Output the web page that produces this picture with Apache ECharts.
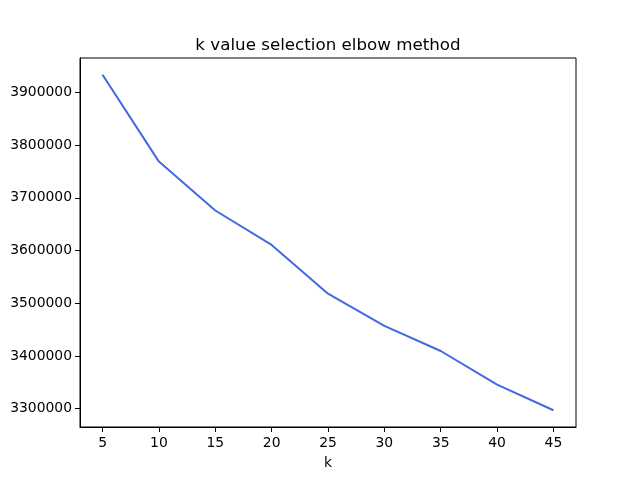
<!DOCTYPE html>
<html>
<head>
<meta charset="utf-8">
<script src="https://cdn.jsdelivr.net/npm/echarts@6/dist/echarts.min.js"></script>
<style>html,body{margin:0;padding:0;background:#fff;}#c{width:640px;height:480px;}</style>
</head>
<body>
<div id="c"></div>
<script>
var kValues = [5, 10, 15, 20, 25, 30, 35, 40, 45];
var sseValues = [3933500, 3768700, 3675900, 3610500, 3518000, 3457000, 3409300, 3345600, 3296900];
var xTicks = [5, 10, 15, 20, 25, 30, 35, 40, 45];
var yTicks = [3300000, 3400000, 3500000, 3600000, 3700000, 3800000, 3900000];

var xMin = 3, xMax = 47;
var yRange = Math.max.apply(null, sseValues) - Math.min.apply(null, sseValues);
var yMin = Math.min.apply(null, sseValues) - 0.05 * yRange;
var yMax = Math.max.apply(null, sseValues) + 0.05 * yRange;

var font = 'DejaVu Sans';
var chart = echarts.init(document.getElementById('c'), null, {renderer: 'canvas'});
chart.setOption({
  animation: false,
  backgroundColor: '#fff',
  title: {
    text: 'k value selection elbow method',
    left: 323, top: 32, textAlign: 'center',
    textStyle: {fontFamily: font, fontSize: 16.7, fontWeight: 'normal', color: '#000'}
  },
  grid: {left: 80, right: 64, top: 58, bottom: 53, show: true, borderColor: '#000', borderWidth: 1, backgroundColor: 'transparent'},
  xAxis: {
    type: 'value', min: xMin, max: xMax,
    name: 'k', nameLocation: 'middle', nameGap: 29,
    nameTextStyle: {fontFamily: font, fontSize: 13.9, color: '#000'},
    axisLine: {show: true, onZero: false, lineStyle: {color: '#000', width: 1}},
    axisTick: {show: true, inside: false, length: 5, lineStyle: {color: '#000'}, customValues: xTicks},
    axisLabel: {show: true, margin: 9, fontFamily: font, fontSize: 13.9, color: '#000', customValues: xTicks},
    splitLine: {show: false}
  },
  yAxis: {
    type: 'value', min: yMin, max: yMax,
    axisLine: {show: true, onZero: false, lineStyle: {color: '#000', width: 1}},
    axisTick: {show: true, inside: false, length: 5, lineStyle: {color: '#000'}, customValues: yTicks},
    axisLabel: {show: true, margin: 8, fontFamily: font, fontSize: 13.9, color: '#000', customValues: yTicks,
      formatter: function (v) { return String(Math.round(v)); }},
    splitLine: {show: false}
  },
  series: [{
    type: 'line',
    data: kValues.map(function (k, i) { return [k, sseValues[i]]; }),
    showSymbol: false,
    lineStyle: {color: '#4169E1', width: 2},
    itemStyle: {color: '#4169E1'}
  }]
});
</script>
</body>
</html>
